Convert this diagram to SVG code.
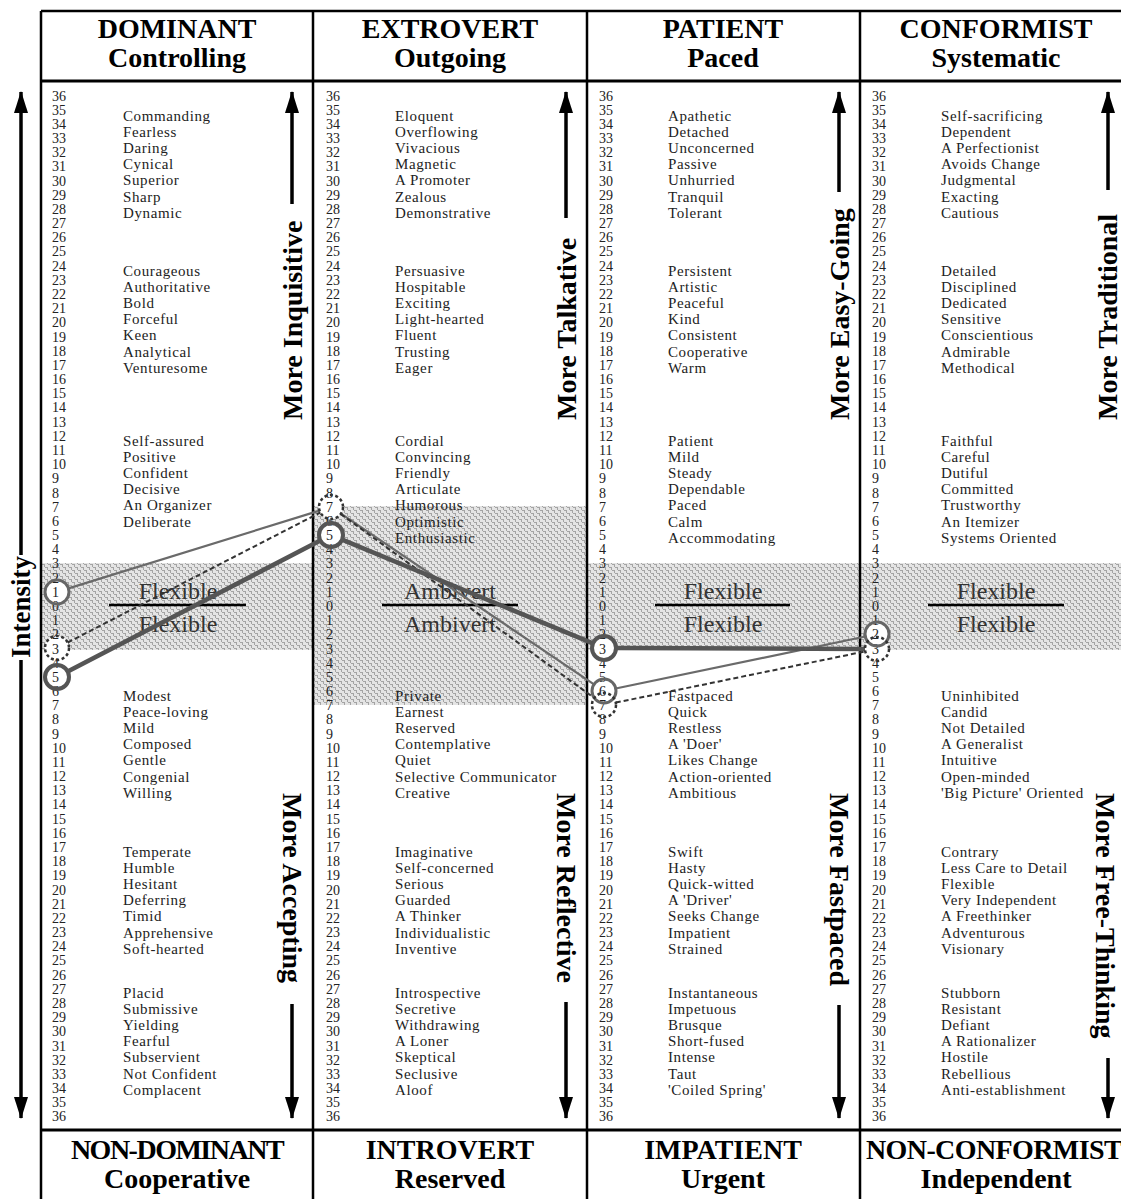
<svg xmlns="http://www.w3.org/2000/svg" width="1121" height="1199" viewBox="0 0 1121 1199">
<defs>
<pattern id="maze" width="6" height="6" patternUnits="userSpaceOnUse">
<rect width="6" height="6" fill="#e4e4e4"/>
<path d="M0 0h3v1H0zM3 3h3v1H3zM2 1h1v2H2zM5 4h1v2H5z" fill="#a4a4a4"/>
</pattern>
<marker id="ah" viewBox="0 0 22 14" refX="21" refY="7" markerWidth="22" markerHeight="14" markerUnits="userSpaceOnUse" orient="auto"><path d="M0,0 L22,7 L0,14 z" fill="#000"/></marker>
</defs>
<style>
.fr{stroke:#000;stroke-width:2.5;fill:none}
.hd{font-family:"Liberation Serif",serif;font-weight:bold;font-size:28px;text-anchor:middle;fill:#000}
.n{font-family:"Liberation Serif",serif;font-size:14px;fill:#222}
.w{font-family:"Liberation Serif",serif;font-size:15px;letter-spacing:0.6px;fill:#222}
.flex{font-family:"Liberation Serif",serif;font-size:24px;text-anchor:middle;fill:#333}
.rot{font-family:"Liberation Serif",serif;font-weight:bold;font-size:28px;fill:#000}
.ax{stroke:#000;stroke-width:3.5;fill:none;marker-end:url(#ah)}
.sep{stroke:#000;stroke-width:2.5}
.disc{fill:#fff}
.cs{fill:none;stroke:#666;stroke-width:3}
.ck{fill:none;stroke:#555;stroke-width:4}
.cd{fill:none;stroke:#333;stroke-width:2.5;stroke-dasharray:3 2.5}
.lt{fill:none;stroke:#6a6a6a;stroke-width:2.2}
.lk{fill:none;stroke:#555;stroke-width:4.5}
.ld{fill:none;stroke:#333;stroke-width:2;stroke-dasharray:5 3}
</style>
<rect width="1121" height="1199" fill="#fff"/>
<g id="bands">
<rect x="42" y="563" width="271" height="87" fill="url(#maze)"/>
<rect x="313" y="506" width="274" height="199" fill="url(#maze)"/>
<rect x="587" y="563" width="534" height="87" fill="url(#maze)"/>
</g>
<g id="discs">
<circle class="disc" cx="57" cy="592" r="12"/><circle class="disc" cx="57" cy="648" r="12"/><circle class="disc" cx="57" cy="677" r="12"/>
<circle class="disc" cx="331" cy="507" r="12"/><circle class="disc" cx="331" cy="535" r="12"/>
<circle class="disc" cx="604" cy="648" r="12"/><circle class="disc" cx="604" cy="691" r="12"/><circle class="disc" cx="604" cy="705" r="12"/>
<circle class="disc" cx="877" cy="634" r="12"/><circle class="disc" cx="877" cy="649" r="12"/>
</g>
<g id="frame">
<path class="fr" d="M41,11 H1121 M41,11 V1199 M313,11 V1199 M587,11 V1199 M860,11 V1199"/>
<path d="M41,81 H1121 M41,1130 H1121" stroke="#000" stroke-width="3.2" fill="none"/>
</g>
<g id="headers">
<text class="hd" x="177" y="38">DOMINANT</text><text class="hd" x="177" y="67">Controlling</text>
<text class="hd" x="450" y="38">EXTROVERT</text><text class="hd" x="450" y="67">Outgoing</text>
<text class="hd" x="723" y="38">PATIENT</text><text class="hd" x="723" y="67">Paced</text>
<text class="hd" x="996" y="38">CONFORMIST</text><text class="hd" x="996" y="67">Systematic</text>
</g>
<g id="footers">
<text class="hd" x="177" y="1159" letter-spacing="-1.5">NON-DOMINANT</text><text class="hd" x="177" y="1188">Cooperative</text>
<text class="hd" x="450" y="1159">INTROVERT</text><text class="hd" x="450" y="1188">Reserved</text>
<text class="hd" x="723" y="1159">IMPATIENT</text><text class="hd" x="723" y="1188">Urgent</text>
<text class="hd" x="994" y="1159" letter-spacing="-0.6">NON-CONFORMIST</text><text class="hd" x="996" y="1188">Independent</text>
</g>
<g id="scale1"><text class="n" x="52" y="100.5">36<tspan x="52" dy="14.18">35</tspan><tspan x="52" dy="14.18">34</tspan><tspan x="52" dy="14.18">33</tspan><tspan x="52" dy="14.18">32</tspan><tspan x="52" dy="14.18">31</tspan><tspan x="52" dy="14.18">30</tspan><tspan x="52" dy="14.18">29</tspan><tspan x="52" dy="14.18">28</tspan><tspan x="52" dy="14.18">27</tspan><tspan x="52" dy="14.18">26</tspan><tspan x="52" dy="14.18">25</tspan><tspan x="52" dy="14.18">24</tspan><tspan x="52" dy="14.18">23</tspan><tspan x="52" dy="14.18">22</tspan><tspan x="52" dy="14.18">21</tspan><tspan x="52" dy="14.18">20</tspan><tspan x="52" dy="14.18">19</tspan><tspan x="52" dy="14.18">18</tspan><tspan x="52" dy="14.18">17</tspan><tspan x="52" dy="14.18">16</tspan><tspan x="52" dy="14.18">15</tspan><tspan x="52" dy="14.18">14</tspan><tspan x="52" dy="14.18">13</tspan><tspan x="52" dy="14.18">12</tspan><tspan x="52" dy="14.18">11</tspan><tspan x="52" dy="14.18">10</tspan><tspan x="52" dy="14.18">9</tspan><tspan x="52" dy="14.18">8</tspan><tspan x="52" dy="14.18">7</tspan><tspan x="52" dy="14.18">6</tspan><tspan x="52" dy="14.18">5</tspan><tspan x="52" dy="14.18">4</tspan><tspan x="52" dy="14.18">3</tspan><tspan x="52" dy="14.18">2</tspan><tspan x="52" dy="14.18">1</tspan><tspan x="52" dy="14.18">0</tspan><tspan x="52" dy="14.18">1</tspan><tspan x="52" dy="14.18">2</tspan><tspan x="52" dy="14.18">3</tspan><tspan x="52" dy="14.18">4</tspan><tspan x="52" dy="14.18">5</tspan><tspan x="52" dy="14.18">6</tspan><tspan x="52" dy="14.18">7</tspan><tspan x="52" dy="14.18">8</tspan><tspan x="52" dy="14.18">9</tspan><tspan x="52" dy="14.18">10</tspan><tspan x="52" dy="14.18">11</tspan><tspan x="52" dy="14.18">12</tspan><tspan x="52" dy="14.18">13</tspan><tspan x="52" dy="14.18">14</tspan><tspan x="52" dy="14.18">15</tspan><tspan x="52" dy="14.18">16</tspan><tspan x="52" dy="14.18">17</tspan><tspan x="52" dy="14.18">18</tspan><tspan x="52" dy="14.18">19</tspan><tspan x="52" dy="14.18">20</tspan><tspan x="52" dy="14.18">21</tspan><tspan x="52" dy="14.18">22</tspan><tspan x="52" dy="14.18">23</tspan><tspan x="52" dy="14.18">24</tspan><tspan x="52" dy="14.18">25</tspan><tspan x="52" dy="14.18">26</tspan><tspan x="52" dy="14.18">27</tspan><tspan x="52" dy="14.18">28</tspan><tspan x="52" dy="14.18">29</tspan><tspan x="52" dy="14.18">30</tspan><tspan x="52" dy="14.18">31</tspan><tspan x="52" dy="14.18">32</tspan><tspan x="52" dy="14.18">33</tspan><tspan x="52" dy="14.18">34</tspan><tspan x="52" dy="14.18">35</tspan><tspan x="52" dy="14.18">36</tspan></text></g>
<g id="scale2"><text class="n" x="326" y="100.5">36<tspan x="326" dy="14.18">35</tspan><tspan x="326" dy="14.18">34</tspan><tspan x="326" dy="14.18">33</tspan><tspan x="326" dy="14.18">32</tspan><tspan x="326" dy="14.18">31</tspan><tspan x="326" dy="14.18">30</tspan><tspan x="326" dy="14.18">29</tspan><tspan x="326" dy="14.18">28</tspan><tspan x="326" dy="14.18">27</tspan><tspan x="326" dy="14.18">26</tspan><tspan x="326" dy="14.18">25</tspan><tspan x="326" dy="14.18">24</tspan><tspan x="326" dy="14.18">23</tspan><tspan x="326" dy="14.18">22</tspan><tspan x="326" dy="14.18">21</tspan><tspan x="326" dy="14.18">20</tspan><tspan x="326" dy="14.18">19</tspan><tspan x="326" dy="14.18">18</tspan><tspan x="326" dy="14.18">17</tspan><tspan x="326" dy="14.18">16</tspan><tspan x="326" dy="14.18">15</tspan><tspan x="326" dy="14.18">14</tspan><tspan x="326" dy="14.18">13</tspan><tspan x="326" dy="14.18">12</tspan><tspan x="326" dy="14.18">11</tspan><tspan x="326" dy="14.18">10</tspan><tspan x="326" dy="14.18">9</tspan><tspan x="326" dy="14.18">8</tspan><tspan x="326" dy="14.18">7</tspan><tspan x="326" dy="14.18">6</tspan><tspan x="326" dy="14.18">5</tspan><tspan x="326" dy="14.18">4</tspan><tspan x="326" dy="14.18">3</tspan><tspan x="326" dy="14.18">2</tspan><tspan x="326" dy="14.18">1</tspan><tspan x="326" dy="14.18">0</tspan><tspan x="326" dy="14.18">1</tspan><tspan x="326" dy="14.18">2</tspan><tspan x="326" dy="14.18">3</tspan><tspan x="326" dy="14.18">4</tspan><tspan x="326" dy="14.18">5</tspan><tspan x="326" dy="14.18">6</tspan><tspan x="326" dy="14.18">7</tspan><tspan x="326" dy="14.18">8</tspan><tspan x="326" dy="14.18">9</tspan><tspan x="326" dy="14.18">10</tspan><tspan x="326" dy="14.18">11</tspan><tspan x="326" dy="14.18">12</tspan><tspan x="326" dy="14.18">13</tspan><tspan x="326" dy="14.18">14</tspan><tspan x="326" dy="14.18">15</tspan><tspan x="326" dy="14.18">16</tspan><tspan x="326" dy="14.18">17</tspan><tspan x="326" dy="14.18">18</tspan><tspan x="326" dy="14.18">19</tspan><tspan x="326" dy="14.18">20</tspan><tspan x="326" dy="14.18">21</tspan><tspan x="326" dy="14.18">22</tspan><tspan x="326" dy="14.18">23</tspan><tspan x="326" dy="14.18">24</tspan><tspan x="326" dy="14.18">25</tspan><tspan x="326" dy="14.18">26</tspan><tspan x="326" dy="14.18">27</tspan><tspan x="326" dy="14.18">28</tspan><tspan x="326" dy="14.18">29</tspan><tspan x="326" dy="14.18">30</tspan><tspan x="326" dy="14.18">31</tspan><tspan x="326" dy="14.18">32</tspan><tspan x="326" dy="14.18">33</tspan><tspan x="326" dy="14.18">34</tspan><tspan x="326" dy="14.18">35</tspan><tspan x="326" dy="14.18">36</tspan></text></g>
<g id="scale3"><text class="n" x="599" y="100.5">36<tspan x="599" dy="14.18">35</tspan><tspan x="599" dy="14.18">34</tspan><tspan x="599" dy="14.18">33</tspan><tspan x="599" dy="14.18">32</tspan><tspan x="599" dy="14.18">31</tspan><tspan x="599" dy="14.18">30</tspan><tspan x="599" dy="14.18">29</tspan><tspan x="599" dy="14.18">28</tspan><tspan x="599" dy="14.18">27</tspan><tspan x="599" dy="14.18">26</tspan><tspan x="599" dy="14.18">25</tspan><tspan x="599" dy="14.18">24</tspan><tspan x="599" dy="14.18">23</tspan><tspan x="599" dy="14.18">22</tspan><tspan x="599" dy="14.18">21</tspan><tspan x="599" dy="14.18">20</tspan><tspan x="599" dy="14.18">19</tspan><tspan x="599" dy="14.18">18</tspan><tspan x="599" dy="14.18">17</tspan><tspan x="599" dy="14.18">16</tspan><tspan x="599" dy="14.18">15</tspan><tspan x="599" dy="14.18">14</tspan><tspan x="599" dy="14.18">13</tspan><tspan x="599" dy="14.18">12</tspan><tspan x="599" dy="14.18">11</tspan><tspan x="599" dy="14.18">10</tspan><tspan x="599" dy="14.18">9</tspan><tspan x="599" dy="14.18">8</tspan><tspan x="599" dy="14.18">7</tspan><tspan x="599" dy="14.18">6</tspan><tspan x="599" dy="14.18">5</tspan><tspan x="599" dy="14.18">4</tspan><tspan x="599" dy="14.18">3</tspan><tspan x="599" dy="14.18">2</tspan><tspan x="599" dy="14.18">1</tspan><tspan x="599" dy="14.18">0</tspan><tspan x="599" dy="14.18">1</tspan><tspan x="599" dy="14.18">2</tspan><tspan x="599" dy="14.18">3</tspan><tspan x="599" dy="14.18">4</tspan><tspan x="599" dy="14.18">5</tspan><tspan x="599" dy="14.18">6</tspan><tspan x="599" dy="14.18">7</tspan><tspan x="599" dy="14.18">8</tspan><tspan x="599" dy="14.18">9</tspan><tspan x="599" dy="14.18">10</tspan><tspan x="599" dy="14.18">11</tspan><tspan x="599" dy="14.18">12</tspan><tspan x="599" dy="14.18">13</tspan><tspan x="599" dy="14.18">14</tspan><tspan x="599" dy="14.18">15</tspan><tspan x="599" dy="14.18">16</tspan><tspan x="599" dy="14.18">17</tspan><tspan x="599" dy="14.18">18</tspan><tspan x="599" dy="14.18">19</tspan><tspan x="599" dy="14.18">20</tspan><tspan x="599" dy="14.18">21</tspan><tspan x="599" dy="14.18">22</tspan><tspan x="599" dy="14.18">23</tspan><tspan x="599" dy="14.18">24</tspan><tspan x="599" dy="14.18">25</tspan><tspan x="599" dy="14.18">26</tspan><tspan x="599" dy="14.18">27</tspan><tspan x="599" dy="14.18">28</tspan><tspan x="599" dy="14.18">29</tspan><tspan x="599" dy="14.18">30</tspan><tspan x="599" dy="14.18">31</tspan><tspan x="599" dy="14.18">32</tspan><tspan x="599" dy="14.18">33</tspan><tspan x="599" dy="14.18">34</tspan><tspan x="599" dy="14.18">35</tspan><tspan x="599" dy="14.18">36</tspan></text></g>
<g id="scale4"><text class="n" x="872" y="100.5">36<tspan x="872" dy="14.18">35</tspan><tspan x="872" dy="14.18">34</tspan><tspan x="872" dy="14.18">33</tspan><tspan x="872" dy="14.18">32</tspan><tspan x="872" dy="14.18">31</tspan><tspan x="872" dy="14.18">30</tspan><tspan x="872" dy="14.18">29</tspan><tspan x="872" dy="14.18">28</tspan><tspan x="872" dy="14.18">27</tspan><tspan x="872" dy="14.18">26</tspan><tspan x="872" dy="14.18">25</tspan><tspan x="872" dy="14.18">24</tspan><tspan x="872" dy="14.18">23</tspan><tspan x="872" dy="14.18">22</tspan><tspan x="872" dy="14.18">21</tspan><tspan x="872" dy="14.18">20</tspan><tspan x="872" dy="14.18">19</tspan><tspan x="872" dy="14.18">18</tspan><tspan x="872" dy="14.18">17</tspan><tspan x="872" dy="14.18">16</tspan><tspan x="872" dy="14.18">15</tspan><tspan x="872" dy="14.18">14</tspan><tspan x="872" dy="14.18">13</tspan><tspan x="872" dy="14.18">12</tspan><tspan x="872" dy="14.18">11</tspan><tspan x="872" dy="14.18">10</tspan><tspan x="872" dy="14.18">9</tspan><tspan x="872" dy="14.18">8</tspan><tspan x="872" dy="14.18">7</tspan><tspan x="872" dy="14.18">6</tspan><tspan x="872" dy="14.18">5</tspan><tspan x="872" dy="14.18">4</tspan><tspan x="872" dy="14.18">3</tspan><tspan x="872" dy="14.18">2</tspan><tspan x="872" dy="14.18">1</tspan><tspan x="872" dy="14.18">0</tspan><tspan x="872" dy="14.18">1</tspan><tspan x="872" dy="14.18">2</tspan><tspan x="872" dy="14.18">3</tspan><tspan x="872" dy="14.18">4</tspan><tspan x="872" dy="14.18">5</tspan><tspan x="872" dy="14.18">6</tspan><tspan x="872" dy="14.18">7</tspan><tspan x="872" dy="14.18">8</tspan><tspan x="872" dy="14.18">9</tspan><tspan x="872" dy="14.18">10</tspan><tspan x="872" dy="14.18">11</tspan><tspan x="872" dy="14.18">12</tspan><tspan x="872" dy="14.18">13</tspan><tspan x="872" dy="14.18">14</tspan><tspan x="872" dy="14.18">15</tspan><tspan x="872" dy="14.18">16</tspan><tspan x="872" dy="14.18">17</tspan><tspan x="872" dy="14.18">18</tspan><tspan x="872" dy="14.18">19</tspan><tspan x="872" dy="14.18">20</tspan><tspan x="872" dy="14.18">21</tspan><tspan x="872" dy="14.18">22</tspan><tspan x="872" dy="14.18">23</tspan><tspan x="872" dy="14.18">24</tspan><tspan x="872" dy="14.18">25</tspan><tspan x="872" dy="14.18">26</tspan><tspan x="872" dy="14.18">27</tspan><tspan x="872" dy="14.18">28</tspan><tspan x="872" dy="14.18">29</tspan><tspan x="872" dy="14.18">30</tspan><tspan x="872" dy="14.18">31</tspan><tspan x="872" dy="14.18">32</tspan><tspan x="872" dy="14.18">33</tspan><tspan x="872" dy="14.18">34</tspan><tspan x="872" dy="14.18">35</tspan><tspan x="872" dy="14.18">36</tspan></text></g>
<g id="words1">
<text class="w" x="123" y="120.5">Commanding<tspan x="123" dy="16.2">Fearless</tspan><tspan x="123" dy="16.2">Daring</tspan><tspan x="123" dy="16.2">Cynical</tspan><tspan x="123" dy="16.2">Superior</tspan><tspan x="123" dy="16.2">Sharp</tspan><tspan x="123" dy="16.2">Dynamic</tspan></text>
<text class="w" x="123" y="275.5">Courageous<tspan x="123" dy="16.2">Authoritative</tspan><tspan x="123" dy="16.2">Bold</tspan><tspan x="123" dy="16.2">Forceful</tspan><tspan x="123" dy="16.2">Keen</tspan><tspan x="123" dy="16.2">Analytical</tspan><tspan x="123" dy="16.2">Venturesome</tspan></text>
<text class="w" x="123" y="445.5">Self-assured<tspan x="123" dy="16.2">Positive</tspan><tspan x="123" dy="16.2">Confident</tspan><tspan x="123" dy="16.2">Decisive</tspan><tspan x="123" dy="16.2">An Organizer</tspan><tspan x="123" dy="16.2">Deliberate</tspan></text>
<text class="w" x="123" y="700.5">Modest<tspan x="123" dy="16.2">Peace-loving</tspan><tspan x="123" dy="16.2">Mild</tspan><tspan x="123" dy="16.2">Composed</tspan><tspan x="123" dy="16.2">Gentle</tspan><tspan x="123" dy="16.2">Congenial</tspan><tspan x="123" dy="16.2">Willing</tspan></text>
<text class="w" x="123" y="856.5">Temperate<tspan x="123" dy="16.2">Humble</tspan><tspan x="123" dy="16.2">Hesitant</tspan><tspan x="123" dy="16.2">Deferring</tspan><tspan x="123" dy="16.2">Timid</tspan><tspan x="123" dy="16.2">Apprehensive</tspan><tspan x="123" dy="16.2">Soft-hearted</tspan></text>
<text class="w" x="123" y="997.5">Placid<tspan x="123" dy="16.2">Submissive</tspan><tspan x="123" dy="16.2">Yielding</tspan><tspan x="123" dy="16.2">Fearful</tspan><tspan x="123" dy="16.2">Subservient</tspan><tspan x="123" dy="16.2">Not Confident</tspan><tspan x="123" dy="16.2">Complacent</tspan></text>
</g>
<g id="words2">
<text class="w" x="395" y="120.5">Eloquent<tspan x="395" dy="16.2">Overflowing</tspan><tspan x="395" dy="16.2">Vivacious</tspan><tspan x="395" dy="16.2">Magnetic</tspan><tspan x="395" dy="16.2">A Promoter</tspan><tspan x="395" dy="16.2">Zealous</tspan><tspan x="395" dy="16.2">Demonstrative</tspan></text>
<text class="w" x="395" y="275.5">Persuasive<tspan x="395" dy="16.2">Hospitable</tspan><tspan x="395" dy="16.2">Exciting</tspan><tspan x="395" dy="16.2">Light-hearted</tspan><tspan x="395" dy="16.2">Fluent</tspan><tspan x="395" dy="16.2">Trusting</tspan><tspan x="395" dy="16.2">Eager</tspan></text>
<text class="w" x="395" y="445.5">Cordial<tspan x="395" dy="16.2">Convincing</tspan><tspan x="395" dy="16.2">Friendly</tspan><tspan x="395" dy="16.2">Articulate</tspan><tspan x="395" dy="16.2">Humorous</tspan><tspan x="395" dy="16.2">Optimistic</tspan><tspan x="395" dy="16.2">Enthusiastic</tspan></text>
<text class="w" x="395" y="700.5">Private<tspan x="395" dy="16.2">Earnest</tspan><tspan x="395" dy="16.2">Reserved</tspan><tspan x="395" dy="16.2">Contemplative</tspan><tspan x="395" dy="16.2">Quiet</tspan><tspan x="395" dy="16.2">Selective Communicator</tspan><tspan x="395" dy="16.2">Creative</tspan></text>
<text class="w" x="395" y="856.5">Imaginative<tspan x="395" dy="16.2">Self-concerned</tspan><tspan x="395" dy="16.2">Serious</tspan><tspan x="395" dy="16.2">Guarded</tspan><tspan x="395" dy="16.2">A Thinker</tspan><tspan x="395" dy="16.2">Individualistic</tspan><tspan x="395" dy="16.2">Inventive</tspan></text>
<text class="w" x="395" y="997.5">Introspective<tspan x="395" dy="16.2">Secretive</tspan><tspan x="395" dy="16.2">Withdrawing</tspan><tspan x="395" dy="16.2">A Loner</tspan><tspan x="395" dy="16.2">Skeptical</tspan><tspan x="395" dy="16.2">Seclusive</tspan><tspan x="395" dy="16.2">Aloof</tspan></text>
</g>
<g id="words3">
<text class="w" x="668" y="120.5">Apathetic<tspan x="668" dy="16.2">Detached</tspan><tspan x="668" dy="16.2">Unconcerned</tspan><tspan x="668" dy="16.2">Passive</tspan><tspan x="668" dy="16.2">Unhurried</tspan><tspan x="668" dy="16.2">Tranquil</tspan><tspan x="668" dy="16.2">Tolerant</tspan></text>
<text class="w" x="668" y="275.5">Persistent<tspan x="668" dy="16.2">Artistic</tspan><tspan x="668" dy="16.2">Peaceful</tspan><tspan x="668" dy="16.2">Kind</tspan><tspan x="668" dy="16.2">Consistent</tspan><tspan x="668" dy="16.2">Cooperative</tspan><tspan x="668" dy="16.2">Warm</tspan></text>
<text class="w" x="668" y="445.5">Patient<tspan x="668" dy="16.2">Mild</tspan><tspan x="668" dy="16.2">Steady</tspan><tspan x="668" dy="16.2">Dependable</tspan><tspan x="668" dy="16.2">Paced</tspan><tspan x="668" dy="16.2">Calm</tspan><tspan x="668" dy="16.2">Accommodating</tspan></text>
<text class="w" x="668" y="700.5">Fastpaced<tspan x="668" dy="16.2">Quick</tspan><tspan x="668" dy="16.2">Restless</tspan><tspan x="668" dy="16.2">A 'Doer'</tspan><tspan x="668" dy="16.2">Likes Change</tspan><tspan x="668" dy="16.2">Action-oriented</tspan><tspan x="668" dy="16.2">Ambitious</tspan></text>
<text class="w" x="668" y="856.5">Swift<tspan x="668" dy="16.2">Hasty</tspan><tspan x="668" dy="16.2">Quick-witted</tspan><tspan x="668" dy="16.2">A 'Driver'</tspan><tspan x="668" dy="16.2">Seeks Change</tspan><tspan x="668" dy="16.2">Impatient</tspan><tspan x="668" dy="16.2">Strained</tspan></text>
<text class="w" x="668" y="997.5">Instantaneous<tspan x="668" dy="16.2">Impetuous</tspan><tspan x="668" dy="16.2">Brusque</tspan><tspan x="668" dy="16.2">Short-fused</tspan><tspan x="668" dy="16.2">Intense</tspan><tspan x="668" dy="16.2">Taut</tspan><tspan x="668" dy="16.2">'Coiled Spring'</tspan></text>
</g>
<g id="words4">
<text class="w" x="941" y="120.5">Self-sacrificing<tspan x="941" dy="16.2">Dependent</tspan><tspan x="941" dy="16.2">A Perfectionist</tspan><tspan x="941" dy="16.2">Avoids Change</tspan><tspan x="941" dy="16.2">Judgmental</tspan><tspan x="941" dy="16.2">Exacting</tspan><tspan x="941" dy="16.2">Cautious</tspan></text>
<text class="w" x="941" y="275.5">Detailed<tspan x="941" dy="16.2">Disciplined</tspan><tspan x="941" dy="16.2">Dedicated</tspan><tspan x="941" dy="16.2">Sensitive</tspan><tspan x="941" dy="16.2">Conscientious</tspan><tspan x="941" dy="16.2">Admirable</tspan><tspan x="941" dy="16.2">Methodical</tspan></text>
<text class="w" x="941" y="445.5">Faithful<tspan x="941" dy="16.2">Careful</tspan><tspan x="941" dy="16.2">Dutiful</tspan><tspan x="941" dy="16.2">Committed</tspan><tspan x="941" dy="16.2">Trustworthy</tspan><tspan x="941" dy="16.2">An Itemizer</tspan><tspan x="941" dy="16.2">Systems Oriented</tspan></text>
<text class="w" x="941" y="700.5">Uninhibited<tspan x="941" dy="16.2">Candid</tspan><tspan x="941" dy="16.2">Not Detailed</tspan><tspan x="941" dy="16.2">A Generalist</tspan><tspan x="941" dy="16.2">Intuitive</tspan><tspan x="941" dy="16.2">Open-minded</tspan><tspan x="941" dy="16.2">'Big Picture' Oriented</tspan></text>
<text class="w" x="941" y="856.5">Contrary<tspan x="941" dy="16.2">Less Care to Detail</tspan><tspan x="941" dy="16.2">Flexible</tspan><tspan x="941" dy="16.2">Very Independent</tspan><tspan x="941" dy="16.2">A Freethinker</tspan><tspan x="941" dy="16.2">Adventurous</tspan><tspan x="941" dy="16.2">Visionary</tspan></text>
<text class="w" x="941" y="997.5">Stubborn<tspan x="941" dy="16.2">Resistant</tspan><tspan x="941" dy="16.2">Defiant</tspan><tspan x="941" dy="16.2">A Rationalizer</tspan><tspan x="941" dy="16.2">Hostile</tspan><tspan x="941" dy="16.2">Rebellious</tspan><tspan x="941" dy="16.2">Anti-establishment</tspan></text>
</g>
<g id="midlabels">
<text class="flex" x="178" y="599">Flexible</text><line class="sep" x1="109" y1="605" x2="246" y2="605"/><text class="flex" x="178" y="632">Flexible</text>
<text class="flex" x="450" y="599">Ambivert</text><line class="sep" x1="382" y1="605" x2="518" y2="605"/><text class="flex" x="450" y="632">Ambivert</text>
<text class="flex" x="723" y="599">Flexible</text><line class="sep" x1="655" y1="605" x2="790" y2="605"/><text class="flex" x="723" y="632">Flexible</text>
<text class="flex" x="996" y="599">Flexible</text><line class="sep" x1="928" y1="605" x2="1064" y2="605"/><text class="flex" x="996" y="632">Flexible</text>
</g>
<g id="axes">
<path class="ax" d="M21,555 V92"/><path class="ax" d="M21,660 V1118"/>
<text class="rot" style="font-size:27px;text-anchor:middle" transform="translate(30,607) rotate(-90)">Intensity</text>
<path class="ax" d="M292,204 V92"/><path class="ax" d="M292,1004 V1118"/>
<path class="ax" d="M566,218 V92"/><path class="ax" d="M566,1002 V1118"/>
<path class="ax" d="M839,192 V92"/><path class="ax" d="M839,1005 V1118"/>
<path class="ax" d="M1108,190 V92"/><path class="ax" d="M1108,1058 V1118"/>
<text class="rot" transform="translate(302,420) rotate(-90)">More Inquisitive</text>
<text class="rot" transform="translate(576,420) rotate(-90)">More Talkative</text>
<text class="rot" transform="translate(849,420) rotate(-90)">More Easy-Going</text>
<text class="rot" transform="translate(1117,420) rotate(-90)">More Traditional</text>
<text class="rot" transform="translate(283,793) rotate(90)">More Accepting</text>
<text class="rot" transform="translate(557,793) rotate(90)">More Reflective</text>
<text class="rot" transform="translate(830,793) rotate(90)">More Fastpaced</text>
<text class="rot" transform="translate(1096,793) rotate(90)">More Free-Thinking</text>
</g>
<g id="connectors">
<path class="lt" d="M68.5,588.4 L319.5,510.6 M340.9,513.7 L594,684.3 M615.7,688.5 L865.3,636.5"/>
<path class="ld" d="M67.7,642.5 L320.3,512.5 M340.7,514 L594.3,698 M615.8,702.6 L865.2,651.4"/>
<path class="lk" d="M67.7,671.5 L320.3,540.5 M342.1,539.6 L592.9,643.4 M616,648 L865,649"/>
</g>
<g id="p-dom-1"><circle class="cs" cx="57" cy="592" r="12"/></g>
<g id="p-dom-3"><circle class="cd" cx="57" cy="648" r="12"/></g>
<g id="p-dom-5"><circle class="ck" cx="57" cy="677" r="12"/></g>
<g id="p-ext-7"><circle class="cd" cx="331" cy="507" r="12"/></g>
<g id="p-ext-5"><circle class="ck" cx="331" cy="535" r="12"/></g>
<g id="p-pat-3"><circle class="ck" cx="604" cy="648" r="12"/></g>
<g id="p-pat-6"><circle class="cs" cx="604" cy="691" r="12"/></g>
<g id="p-pat-7"><circle class="cd" cx="604" cy="705" r="12"/></g>
<g id="p-con-2"><circle class="cs" cx="877" cy="634" r="12"/></g>
<g id="p-con-3"><circle class="cd" cx="877" cy="649" r="12"/></g>
</svg>
